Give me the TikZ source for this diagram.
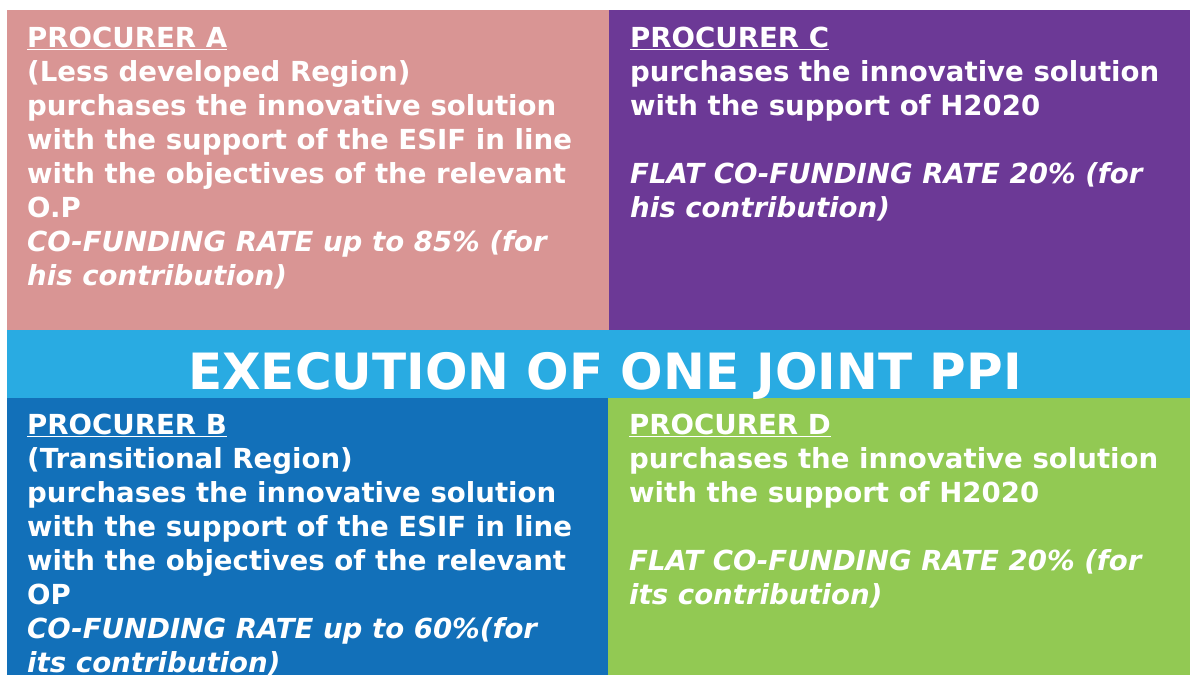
\documentclass[tikz,border=0pt]{standalone}
\usepackage{fontspec}
\setmainfont{DejaVu Sans}
\usetikzlibrary{positioning}
\definecolor{procA}{HTML}{D99594}
\definecolor{procC}{HTML}{6C3996}
\definecolor{jointband}{HTML}{29ABE2}
\definecolor{procB}{HTML}{1270B9}
\definecolor{procD}{HTML}{92C953}

\begin{document}
\begin{tikzpicture}[x=1pt, y=-1pt,
    panel/.style={anchor=north west, inner sep=0pt, outer sep=0pt},
    ptext/.style={anchor=north west, inner sep=0pt, align=left, text=white,
      font=\fontsize{27.6}{34}\selectfont\bfseries}]
      \useasboundingbox (0,0) rectangle (1190,675);
      \clip (0,0) rectangle (1190,675);

      % the four procurers and the band between them
      \node[panel, fill=procA, minimum width=603pt, minimum height=321pt] (pa) at (7,10) {};
      \node[panel, fill=procC, minimum width=581pt, minimum height=321pt] (pc) at (609,10) {};
      \node[panel, fill=procB, minimum width=602pt, minimum height=277pt] (pb) at (7,398) {};
      \node[panel, fill=procD, minimum width=582pt, minimum height=277pt] (pd) at (608,398) {};
      \node[panel, fill=jointband, minimum width=1183pt, minimum height=68pt] (band) at (7,330) {};

      \node[text=white, inner sep=0pt, anchor=base, font=\fontsize{50}{50}\selectfont\bfseries] (joint) at (605,389) {EXECUTION OF ONE JOINT PPI};

      \node[ptext] (ta) at (27,27) {\underline{PROCURER A}\\(Less developed Region)\\purchases the innovative solution\\with the support of the ESIF in line\\with the objectives of the relevant\\O.P\\\itshape CO-FUNDING RATE up to 85\% (for\\\itshape his contribution)};
      \node[ptext] (tc) at (630,27) {\underline{PROCURER C}\\purchases the innovative solution\\with the support of H2020\\[34pt]\itshape FLAT CO-FUNDING RATE 20\% (for\\\itshape his contribution)};
      \node[ptext] (tb) at (27,414) {\underline{PROCURER B}\\(Transitional Region)\\purchases the innovative solution\\with the support of the ESIF in line\\with the objectives of the relevant\\OP\\\itshape CO-FUNDING RATE up to 60\%(for\\\itshape its contribution)};
      \node[ptext] (td) at (629,414) {\underline{PROCURER D}\\purchases the innovative solution\\with the support of H2020\\[34pt]\itshape FLAT CO-FUNDING RATE 20\% (for\\\itshape its contribution)};
\end{tikzpicture}
\end{document}
